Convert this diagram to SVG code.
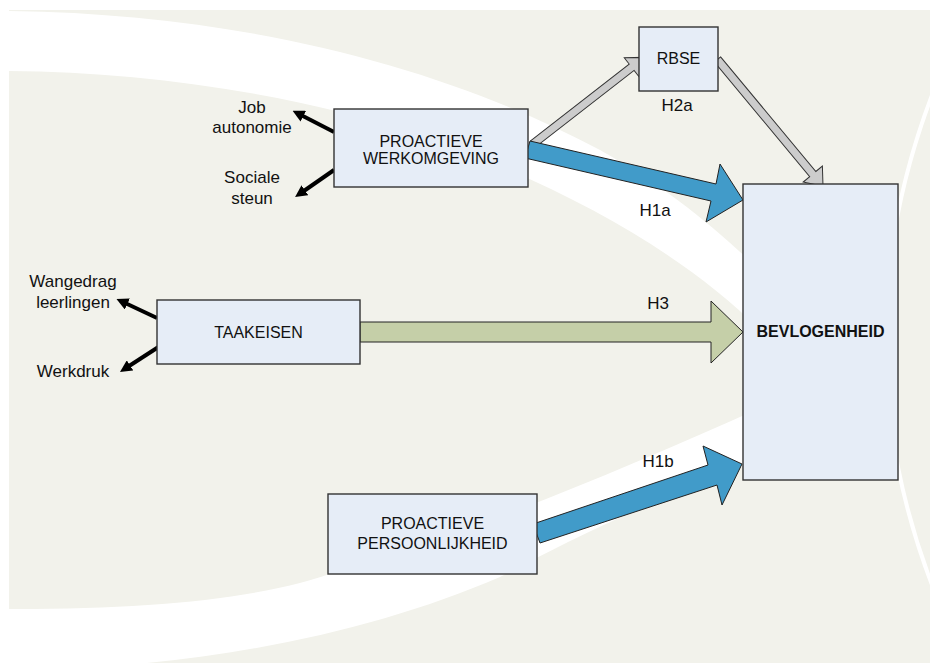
<svg xmlns="http://www.w3.org/2000/svg" width="930" height="663" viewBox="0 0 930 663">
<defs>
<style>
.box{fill:#e6edf7;stroke:#333;stroke-width:1.4}
.t{font-family:"Liberation Sans",Arial,sans-serif;font-size:16px;fill:#111;text-anchor:middle}
.lbl{font-family:"Liberation Sans",Arial,sans-serif;font-size:17px;fill:#111;text-anchor:middle}
.bold{font-weight:bold}
.blk{stroke:#000;stroke-width:4;fill:none;marker-end:url(#ah)}
.blue{fill:#419bc9;stroke:#222;stroke-width:1}
.green{fill:#c5cfa8;stroke:#222;stroke-width:1}
.gray{fill:#cccccc;stroke:#333;stroke-width:1}
</style>
<marker id="ah" viewBox="0 0 10 10" refX="4" refY="5" markerWidth="12" markerHeight="12" markerUnits="userSpaceOnUse" orient="auto">
<path d="M0,0 L10,5 L0,10 Z" fill="#000"/>
</marker>
</defs>
<g id="background">
<rect x="0" y="0" width="930" height="663" fill="#ffffff"/>
<rect x="9" y="10" width="921" height="653" fill="#f2f2eb"/>
<path d="M9,11 C250,14 450,70 600,150 C680,195 730,240 790,300 L800,360 L760,330 C680,250 560,185 420,135 C300,95 150,72 9,71 Z" fill="#ffffff"/>
<path d="M0,609 C150,610 270,598 340,570 C450,540 600,480 760,408 L760,460 C650,500 560,545 500,577 C400,620 280,650 147,663 L0,663 Z" fill="#ffffff"/>
<path d="M932,95 Q839,340 932,585" fill="none" stroke="#ffffff" stroke-width="4"/>
</g>
<g id="connectors">
<line class="blk" x1="334" y1="132" x2="299" y2="114"/>
<line class="blk" x1="334" y1="170" x2="301" y2="193"/>
<line class="blk" x1="157" y1="318" x2="123" y2="302"/>
<line class="blk" x1="160" y1="346" x2="126" y2="368"/>
<polygon class="gray" transform="translate(533,144) rotate(-37.9)" points="0,-4 125,-4 125,-12 141,0 125,12 125,4 0,4"/>
<polygon class="gray" transform="translate(717.5,59.5) rotate(50.25)" points="0,-4 149,-4 149,-12.5 165,0 149,12.5 149,4 0,4"/>
<polygon class="blue" points="530,141 716,184 720,164 743,200 706,222 711,201 525,158"/>
<polygon class="green" points="360,322 711,322 711,301 743,332 711,363 711,342 360,342"/>
<polygon class="blue" points="533,524 708,465 703,446 742,464 722,505 717,485 540,543"/>
<text class="lbl" x="677" y="111">H2a</text>
<text class="lbl" x="655" y="216">H1a</text>
<text class="lbl" x="658" y="309">H3</text>
<text class="lbl" x="658" y="467">H1b</text>
</g>
<g id="labels">
<text class="lbl" x="252" y="113">Job</text>
<text class="lbl" x="252" y="133">autonomie</text>
<text class="lbl" x="252" y="183">Sociale</text>
<text class="lbl" x="252" y="204">steun</text>
<text class="lbl" x="73" y="287">Wangedrag</text>
<text class="lbl" x="73" y="308">leerlingen</text>
<text class="lbl" x="73" y="377">Werkdruk</text>
</g>
<g id="node-werkomgeving">
<rect class="box" x="334" y="109" width="194" height="78"/>
<text class="t" x="431" y="147">PROACTIEVE</text>
<text class="t" x="431" y="164">WERKOMGEVING</text>
</g>
<g id="node-rbse">
<rect class="box" x="639" y="27" width="79" height="64"/>
<text class="t" x="678.5" y="64">RBSE</text>
</g>
<g id="node-taakeisen">
<rect class="box" x="157" y="300" width="203" height="64"/>
<text class="t" x="258.5" y="338">TAAKEISEN</text>
</g>
<g id="node-persoonlijkheid">
<rect class="box" x="328" y="494" width="209" height="80"/>
<text class="t" x="432.5" y="529">PROACTIEVE</text>
<text class="t" x="432.5" y="549">PERSOONLIJKHEID</text>
</g>
<g id="node-bevlogenheid">
<rect class="box" x="743" y="184" width="155" height="296"/>
<text class="t bold" x="820.5" y="337">BEVLOGENHEID</text>
</g>
</svg>
